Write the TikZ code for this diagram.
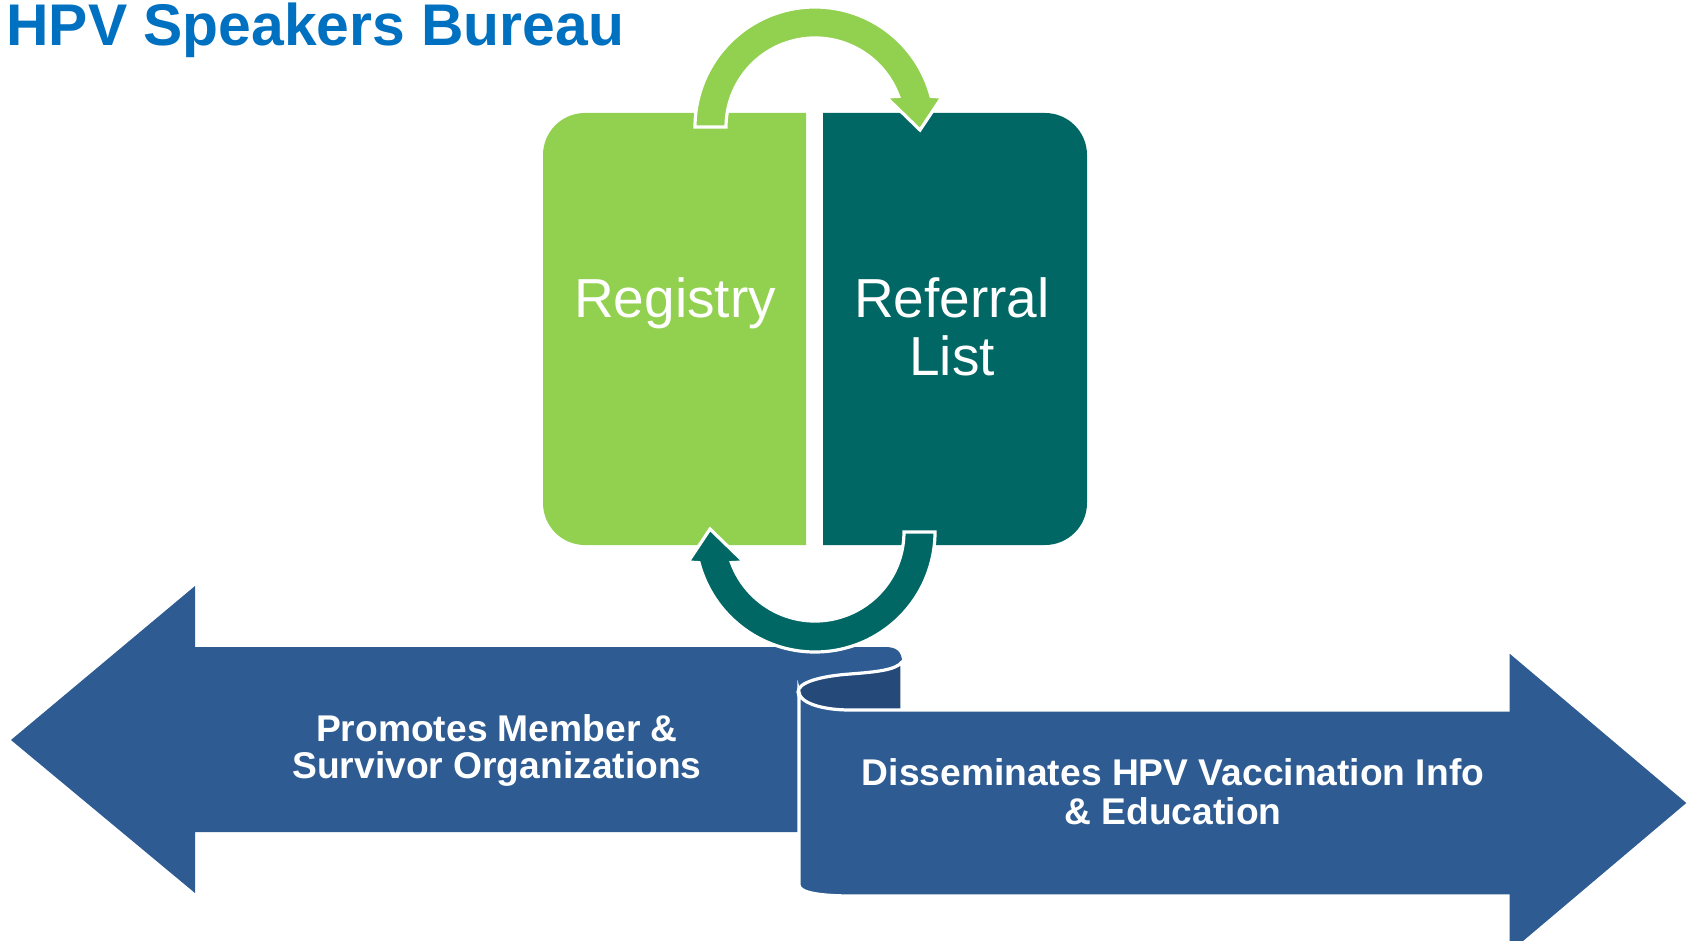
\documentclass[tikz,border=0pt]{standalone}
\usepackage{fontspec}
\setmainfont{Liberation Sans}
\definecolor{regGreen}{RGB}{146,208,80}
\definecolor{refTeal}{RGB}{0,103,100}
\definecolor{arrBlue}{RGB}{45,91,146}
\definecolor{arrDark}{RGB}{37,73,121}
\definecolor{titleBlue}{RGB}{0,112,192}
\begin{document}
\begin{tikzpicture}[x=0.5pt,y=-0.5pt,
  titletext/.style={text=titleBlue, font=\bfseries\fontsize{29.4}{30}\selectfont, inner sep=0, anchor=base west},
  boxtext/.style={text=white, font=\fontsize{27.5}{28}\selectfont, inner sep=0, anchor=base},
  arrowtext/.style={text=white, font=\bfseries\fontsize{18.6}{19}\selectfont, inner sep=0, anchor=base},
  outline/.style={draw=white, line width=1.6pt, line join=miter}]
\fill[white] (0,0) rectangle (1687,941);
\useasboundingbox (0,0) rectangle (1687,941);

% boxes
\fill[regGreen] (806,113) -- (585,113) arc[start angle=270, end angle=180, radius=42]
  -- (543,503) arc[start angle=180, end angle=90, radius=42] -- (806,545) -- cycle;
\fill[refTeal] (823,113) -- (1045,113) arc[start angle=270, end angle=360, radius=42]
  -- (1087,503) arc[start angle=0, end angle=90, radius=42] -- (823,545) -- cycle;

% left arrow
\fill[arrBlue] (11,740) -- (195,586) -- (195,647) -- (885,647)
  .. controls (897,647) and (902,652) .. (902,662) -- (902,700) -- (798,700)
  -- (798,832) -- (195,832) -- (195,893) -- cycle;
% curl face
\path[fill=arrDark, outline] (798,692) .. controls (798,682) and (822,676) .. (850,674)
  .. controls (876,672) and (896,670) .. (902,662) -- (902,712) -- (850,712)
  .. controls (820,712) and (798,702) .. (798,692) -- cycle;
% right arrow
\path[fill=arrBlue, outline] (799,692) .. controls (799,702) and (820,710) .. (850,710)
  -- (1508,710) -- (1508,650) -- (1689,803) -- (1508,956) -- (1508,896) -- (852,896)
  .. controls (822,896) and (799,893) .. (799,885) -- cycle;

% circular arrows
\path[fill=regGreen, outline]
  (695,127) arc[start angle=180, end angle=345.2, radius=120]
  -- (942,97) -- (920,130) -- (886,97) -- (898.6,96.4)
  arc[start angle=339.9, end angle=180, radius=89] -- cycle;
\path[fill=refTeal, outline]
  (935,532) arc[start angle=0, end angle=165.2, radius=120]
  -- (688,562) -- (710,529) -- (744,562) -- (731.4,562.6)
  arc[start angle=159.9, end angle=0, radius=89] -- cycle;

% texts
\node[titletext] (title) at (6,46) {HPV Speakers Bureau};
\node[boxtext] (registry) at (675,318) {Registry};
\node[boxtext] (referral1) at (952,318) {Referral};
\node[boxtext] (referral2) at (952,375) {List};
\node[arrowtext] (promotes1) at (497,741) {Promotes Member \&};
\node[arrowtext] (promotes2) at (497,778) {Survivor Organizations};
\node[arrowtext] (dissem1) at (1173,785) {Disseminates HPV Vaccination Info};
\node[arrowtext] (dissem2) at (1173,824) {\& Education};
\end{tikzpicture}
\end{document}
